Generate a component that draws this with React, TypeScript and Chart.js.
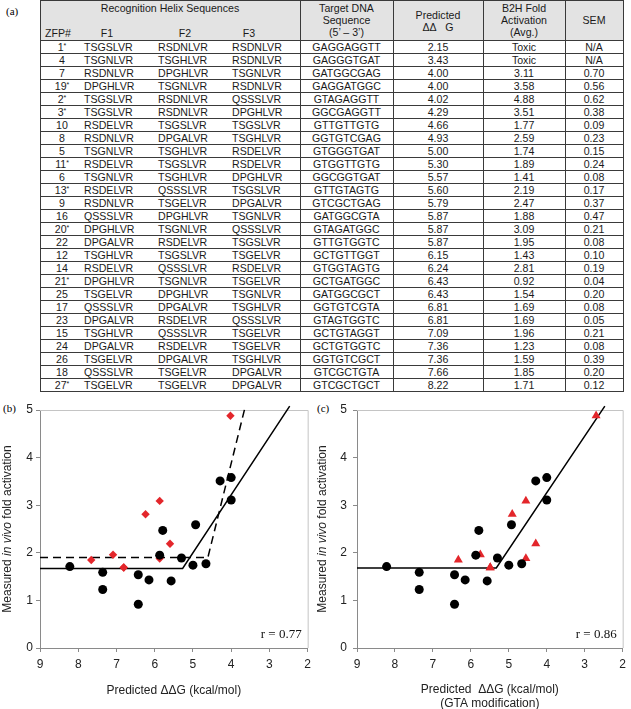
import React, { useEffect, useRef } from "react";
import { Chart, registerables } from "chart.js";

Chart.register(...registerables);

// ---------- table data ----------
const zfpIds = ["1*", "4", "7", "19*", "2*", "3*", "10", "8", "5", "11*", "6", "13*", "9", "16", "20*", "22", "12", "14", "21*", "25", "17", "23", "15", "24", "26", "18", "27*"];
const helixF1 = ["TSGSLVR", "TSGNLVR", "RSDNLVR", "DPGHLVR", "TSGSLVR", "TSGSLVR", "RSDELVR", "RSDNLVR", "TSGNLVR", "RSDELVR", "TSGNLVR", "RSDELVR", "RSDNLVR", "QSSSLVR", "DPGHLVR", "DPGALVR", "TSGHLVR", "RSDELVR", "DPGHLVR", "TSGELVR", "QSSSLVR", "DPGALVR", "TSGHLVR", "DPGALVR", "TSGELVR", "QSSSLVR", "TSGELVR"];
const helixF2 = ["RSDNLVR", "TSGHLVR", "DPGHLVR", "TSGNLVR", "RSDNLVR", "RSDNLVR", "TSGSLVR", "DPGALVR", "TSGHLVR", "TSGSLVR", "TSGHLVR", "QSSSLVR", "TSGELVR", "DPGHLVR", "TSGNLVR", "RSDELVR", "TSGSLVR", "QSSSLVR", "TSGNLVR", "DPGHLVR", "DPGALVR", "RSDELVR", "QSSSLVR", "RSDELVR", "DPGALVR", "TSGELVR", "TSGELVR"];
const helixF3 = ["RSDNLVR", "RSDNLVR", "TSGNLVR", "RSDNLVR", "QSSSLVR", "DPGHLVR", "TSGSLVR", "TSGHLVR", "RSDELVR", "RSDELVR", "DPGHLVR", "TSGSLVR", "DPGALVR", "TSGNLVR", "QSSSLVR", "TSGSLVR", "TSGELVR", "RSDELVR", "TSGELVR", "TSGNLVR", "TSGHLVR", "QSSSLVR", "TSGELVR", "TSGELVR", "TSGHLVR", "DPGALVR", "DPGALVR"];
const targetSeqs = ["GAGGAGGTT", "GAGGGTGAT", "GATGGCGAG", "GAGGATGGC", "GTAGAGGTT", "GGCGAGGTT", "GTTGTTGTG", "GGTGTCGAG", "GTGGGTGAT", "GTGGTTGTG", "GGCGGTGAT", "GTTGTAGTG", "GTCGCTGAG", "GATGGCGTA", "GTAGATGGC", "GTTGTGGTC", "GCTGTTGGT", "GTGGTAGTG", "GCTGATGGC", "GATGGCGCT", "GGTGTCGTA", "GTAGTGGTC", "GCTGTAGGT", "GCTGTGGTC", "GGTGTCGCT", "GTCGCTGTA", "GTCGCTGCT"];
const predictedDDG = ["2.15", "3.43", "4.00", "4.00", "4.02", "4.29", "4.66", "4.93", "5.00", "5.30", "5.57", "5.60", "5.79", "5.87", "5.87", "5.87", "6.15", "6.24", "6.43", "6.43", "6.81", "6.81", "7.09", "7.36", "7.36", "7.66", "8.22"];
const foldActivation = ["Toxic", "Toxic", "3.11", "3.58", "4.88", "3.51", "1.77", "2.59", "1.74", "1.89", "1.41", "2.19", "2.47", "1.88", "3.09", "1.95", "1.43", "2.81", "0.92", "1.54", "1.69", "1.69", "1.96", "1.23", "1.59", "1.85", "1.71"];
const semValues = ["N/A", "N/A", "0.70", "0.56", "0.62", "0.38", "0.09", "0.23", "0.15", "0.24", "0.08", "0.17", "0.37", "0.47", "0.21", "0.08", "0.10", "0.19", "0.04", "0.20", "0.08", "0.05", "0.21", "0.08", "0.39", "0.20", "0.12"];

// ---------- chart data ----------
const blackPred = [4.0, 4.0, 4.29, 4.66, 4.93, 5.0, 5.3, 5.57, 5.79, 5.87, 6.15, 6.43, 6.43, 7.36, 7.36, 8.22];
const blackAct = [3.11, 3.58, 3.51, 1.77, 2.59, 1.74, 1.89, 1.41, 2.47, 1.95, 1.43, 0.92, 1.54, 1.23, 1.59, 1.71];
const redPred = [4.02, 5.6, 5.87, 5.87, 6.24, 6.81, 6.81, 7.09, 7.66];
const redAct = [4.88, 2.19, 1.88, 3.09, 2.81, 1.69, 1.69, 1.96, 1.85];
const redPredGTA = [2.7, 4.29, 4.55, 4.55, 4.91, 5.49, 5.49, 5.75, 6.33];
const fitBX = [9, 5.27, 2.47];
const fitBY = [1.67, 1.67, 5.08];
const fitBDashX = [9, 4.61, 3.63];
const fitBDashY = [1.9, 1.9, 5.08];
const fitCX = [9, 5.33, 2.47];
const fitCY = [1.68, 1.68, 5.08];

const SANS = '"Liberation Sans", Arial, Helvetica, sans-serif';
const SERIF = '"Liberation Serif", "Times New Roman", serif';
const RED = "#e3262b";

const pts = (xs: number[], ys: number[]) => xs.map((x, i) => ({ x, y: ys[i] }));

const decorPlugin = {
  id: "decor",
  beforeDatasetsDraw(chart: any) {
    const { ctx, chartArea: a } = chart;
    ctx.save();
    ctx.strokeStyle = "#c4c4c4";
    ctx.lineWidth = 1;
    ctx.beginPath();
    ctx.moveTo(a.left, a.top + 0.5);
    ctx.lineTo(a.right + 0.5, a.top + 0.5);
    ctx.lineTo(a.right + 0.5, a.bottom);
    ctx.stroke();
    ctx.restore();
  },
  afterDraw(chart: any, _args: any, opts: any) {
    const { ctx, chartArea: a } = chart;
    ctx.save();
    const parts = [
      { t: "Measured ", it: false },
      { t: "in vivo", it: true },
      { t: " fold activation", it: false },
    ];
    const f = (it: boolean) => `${it ? "italic " : ""}12px ${SANS}`;
    let total = 0;
    for (const p of parts) {
      ctx.font = f(p.it);
      total += ctx.measureText(p.t).width;
    }
    ctx.translate(opts.yTitleX, (a.top + a.bottom) / 2);
    ctx.rotate(-Math.PI / 2);
    ctx.textBaseline = "middle";
    ctx.textAlign = "left";
    ctx.fillStyle = "#222";
    let x = -total / 2;
    for (const p of parts) {
      ctx.font = f(p.it);
      ctx.fillText(p.t, x, 0);
      x += ctx.measureText(p.t).width;
    }
    ctx.restore();
    ctx.save();
    ctx.font = `13px ${SERIF}`;
    ctx.fillStyle = "#111";
    ctx.textAlign = "right";
    ctx.textBaseline = "middle";
    ctx.fillText(opts.rText, a.right - 6, a.bottom - 13);
    ctx.restore();
  },
};

type PanelProps = {
  left: number;
  top: number;
  width: number;
  height: number;
  plotL: number;
  plotR: number;
  plotT: number;
  plotB: number;
  yTickPad: number;
  yTitleX: number;
  xTitle: string | string[];
  xTitlePad: number;
  rText: string;
  datasets: any[];
};

function Panel(p: PanelProps) {
  const ref = useRef<HTMLCanvasElement>(null);
  useEffect(() => {
    const gridOpts = { drawOnChartArea: false, drawTicks: true, tickLength: 4, color: "#8a8a8a" };
    const chart = new Chart(ref.current as HTMLCanvasElement, {
      type: "scatter",
      data: { datasets: p.datasets },
      options: {
        animation: false,
        responsive: false,
        devicePixelRatio: 1,
        layout: { padding: { left: 0, top: p.plotT - p.top, right: p.left + p.width - p.plotR, bottom: 0 } },
        plugins: {
          legend: { display: false },
          tooltip: { enabled: false },
          decor: { yTitleX: p.yTitleX, rText: p.rText },
        } as any,
        scales: {
          x: {
            type: "linear",
            position: "bottom",
            min: 2,
            max: 9,
            reverse: true,
            afterFit: (s: any) => {
              s.height = p.top + p.height - p.plotB;
            },
            ticks: { stepSize: 1, padding: 5, color: "#222", font: { family: SANS, size: 12 } },
            grid: gridOpts,
            border: { display: true, color: "#8a8a8a" },
            title: {
              display: true,
              text: p.xTitle,
              color: "#222",
              font: { family: SANS, size: 12, lineHeight: 1.17 },
              padding: { top: 0, bottom: p.xTitlePad },
            },
          },
          y: {
            type: "linear",
            min: 0,
            max: 5,
            afterFit: (s: any) => {
              s.width = p.plotL - p.left;
            },
            ticks: { stepSize: 1, padding: p.yTickPad, color: "#222", font: { family: SANS, size: 12 } },
            grid: gridOpts,
            border: { display: true, color: "#8a8a8a" },
          },
        },
      } as any,
      plugins: [decorPlugin as any],
    });
    return () => chart.destroy();
  }, []);
  return (
    <canvas
      ref={ref}
      width={p.width}
      height={p.height}
      style={{ position: "absolute", left: p.left, top: p.top, width: p.width, height: p.height }}
    />
  );
}

const blackSet = () => ({
  data: pts(blackPred, blackAct),
  pointStyle: "circle",
  pointRadius: 4.5,
  backgroundColor: "#000",
  borderColor: "#000",
  borderWidth: 0,
  showLine: false,
});

const lineSet = (xs: number[], ys: number[], dash: number[]) => ({
  data: pts(xs, ys),
  showLine: true,
  pointRadius: 0,
  borderColor: "#000",
  borderWidth: 1.5,
  borderDash: dash,
  fill: false,
  clip: false,
});

const datasetsB = [
  blackSet(),
  {
    data: pts(redPred, redAct),
    pointStyle: "rectRot",
    pointRadius: 4.2,
    backgroundColor: RED,
    borderColor: RED,
    borderWidth: 0,
    showLine: false,
  },
  lineSet(fitBX, fitBY, []),
  lineSet(fitBDashX, fitBDashY, [8, 5]),
];

const datasetsC = [
  blackSet(),
  {
    data: pts(redPredGTA, redAct),
    pointStyle: "triangle",
    pointRadius: 5.2,
    backgroundColor: RED,
    borderColor: RED,
    borderWidth: 0,
    showLine: false,
  },
  lineSet(fitCX, fitCY, []),
];

function Star({ s }: { s: string }) {
  const star = s.endsWith("*");
  const num = star ? s.slice(0, -1) : s;
  return (
    <>
      {num}
      {star && <span style={{ fontSize: 7, position: "relative", top: -3 }}>*</span>}
    </>
  );
}

function Txt(props: { x: number; w: number; y: number; align?: string; children: any }) {
  return (
    <div
      style={{
        position: "absolute",
        left: props.x,
        width: props.w,
        top: props.y - 7,
        height: 14,
        lineHeight: "14px",
        textAlign: (props.align || "center") as any,
        whiteSpace: "nowrap",
        fontSize: 10.6,
        color: "#1a1a1a",
      }}
    >
      {props.children}
    </div>
  );
}

function Table() {
  const L = 40;
  const R = 623;
  const HH = 40;
  const RH = 13;
  const n = zfpIds.length;
  const bottom = HH + RH * n;
  const vlines = [300, 393, 483, 565];
  const line = "#3a3a3a";
  const els: any[] = [];
  els.push(<div key="hbg" style={{ position: "absolute", left: L, top: 0, width: R - L, height: HH, background: "#e3e3e3" }} />);
  els.push(<Txt key="h0" x={L} w={vlines[0] - L} y={8}>Recognition Helix Sequences</Txt>);
  els.push(<Txt key="h1" x={42} w={32} y={33}>ZFP#</Txt>);
  els.push(<Txt key="h2" x={90} w={34} y={33}>F1</Txt>);
  els.push(<Txt key="h3" x={168} w={34} y={33}>F2</Txt>);
  els.push(<Txt key="h4" x={232} w={34} y={33}>F3</Txt>);
  els.push(<Txt key="h5" x={300} w={93} y={8}>Target DNA</Txt>);
  els.push(<Txt key="h6" x={300} w={93} y={20}>Sequence</Txt>);
  els.push(<Txt key="h7" x={300} w={93} y={32}>(5’ – 3’)</Txt>);
  els.push(<Txt key="h8" x={393} w={90} y={15}>Predicted</Txt>);
  els.push(<Txt key="h9" x={393} w={90} y={27}>ΔΔ&nbsp;&nbsp; G</Txt>);
  els.push(<Txt key="h10" x={483} w={82} y={8}>B2H Fold</Txt>);
  els.push(<Txt key="h11" x={483} w={82} y={20}>Activation</Txt>);
  els.push(<Txt key="h12" x={483} w={82} y={32}>(Avg.)</Txt>);
  els.push(<Txt key="h13" x={565} w={58} y={20}>SEM</Txt>);
  for (let i = 0; i < n; i++) {
    const y = HH + RH * i + 6.5;
    els.push(<Txt key={`z${i}`} x={45} w={34} y={y}><Star s={zfpIds[i]} /></Txt>);
    els.push(<Txt key={`a${i}`} x={84} w={66} y={y} align="left">{helixF1[i]}</Txt>);
    els.push(<Txt key={`b${i}`} x={158} w={66} y={y} align="left">{helixF2[i]}</Txt>);
    els.push(<Txt key={`c${i}`} x={232} w={66} y={y} align="left">{helixF3[i]}</Txt>);
    els.push(<Txt key={`t${i}`} x={300} w={93} y={y}>{targetSeqs[i]}</Txt>);
    els.push(<Txt key={`p${i}`} x={393} w={90} y={y}>{predictedDDG[i]}</Txt>);
    els.push(<Txt key={`f${i}`} x={483} w={82} y={y}>{foldActivation[i]}</Txt>);
    els.push(<Txt key={`s${i}`} x={565} w={58} y={y}>{semValues[i]}</Txt>);
  }
  for (let i = 0; i <= n; i++) {
    els.push(<div key={`hl${i}`} style={{ position: "absolute", left: L, top: HH + RH * i, width: R - L + 1, height: 1, background: line }} />);
  }
  els.push(<div key="top" style={{ position: "absolute", left: L, top: 0, width: R - L + 1, height: 1, background: line }} />);
  for (const x of [L, ...vlines, R]) {
    els.push(<div key={`vl${x}`} style={{ position: "absolute", left: x, top: 0, width: 1, height: bottom + 1, background: line }} />);
  }
  return <>{els}</>;
}

export default function App() {
  useEffect(() => {
    document.body.style.margin = "0";
    document.body.style.background = "#fff";
  }, []);
  return (
    <div
      style={{
        position: "absolute",
        left: 0,
        top: 0,
        width: 631,
        height: 709,
        overflow: "hidden",
        background: "#fff",
        fontFamily: SANS,
      }}
    >
      <div style={{ position: "absolute", left: 6, top: 5, fontFamily: SERIF, fontSize: 11 }}>(a)</div>
      <Table />
      <div style={{ position: "absolute", left: 3, top: 402, fontFamily: SERIF, fontSize: 11 }}>(b)</div>
      <div style={{ position: "absolute", left: 317, top: 402, fontFamily: SERIF, fontSize: 11 }}>(c)</div>
      <Panel
        left={0}
        top={396}
        width={316}
        height={316}
        plotL={40}
        plotR={308}
        plotT={410}
        plotB={648}
        yTickPad={3}
        yTitleX={8}
        xTitle="Predicted ΔΔG (kcal/mol)"
        xTitlePad={14}
        rText="r = 0.77"
        datasets={datasetsB}
      />
      <Panel
        left={316}
        top={396}
        width={315}
        height={316}
        plotL={357}
        plotR={625}
        plotT={410}
        plotB={648}
        yTickPad={6}
        yTitleX={7}
        xTitle={["Predicted  ΔΔG (kcal/mol)", "(GTA modification)"]}
        xTitlePad={1}
        rText="r = 0.86"
        datasets={datasetsC}
      />
    </div>
  );
}
